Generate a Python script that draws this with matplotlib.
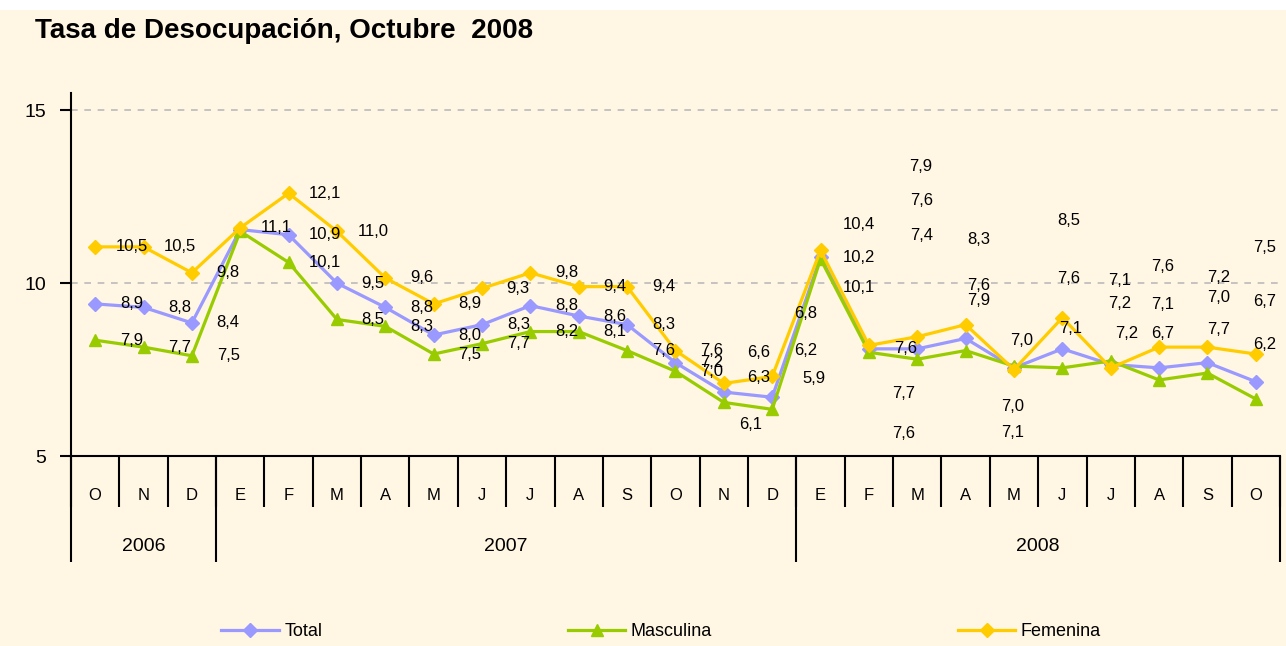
import matplotlib.pyplot as plt
from matplotlib.transforms import blended_transform_factory

plt.rcParams['font.family'] = ['Liberation Sans', 'DejaVu Sans']

# Categories
months = ['O', 'N', 'D', 'E', 'F', 'M', 'A', 'M', 'J', 'J', 'A', 'S',
          'O', 'N', 'D', 'E', 'F', 'M', 'A', 'M', 'J', 'J', 'A', 'S', 'O']
years = ['2006', '2007', '2008']
months_per_year = [3, 12, 10]

# Plotted series (as drawn in the chart)
total = [9.4, 9.3, 8.85, 11.55, 11.4, 10.0, 9.3, 8.5, 8.8, 9.35, 9.05, 8.8,
         7.7, 6.85, 6.7, 10.75, 8.1, 8.1, 8.4, 7.55, 8.1, 7.65, 7.55, 7.7, 7.15]
masculina = [8.35, 8.15, 7.9, 11.5, 10.6, 8.95, 8.75, 7.95, 8.25, 8.6, 8.6, 8.05,
             7.45, 6.55, 6.35, 10.7, 8.0, 7.8, 8.05, 7.6, 7.55, 7.75, 7.2, 7.4, 6.65]
femenina = [11.05, 11.05, 10.3, 11.6, 12.6, 11.5, 10.15, 9.4, 9.85, 10.3, 9.9, 9.9,
            8.05, 7.1, 7.3, 10.95, 8.2, 8.45, 8.8, 7.5, 9.0, 7.55, 8.15, 8.15, 7.95]

# Data label texts (as printed in the chart)
total_lbl = [8.9, 8.8, 8.4, None, 10.9, 9.5, 8.8, 8.0, 8.3, 8.8, 8.6, 8.3,
             7.2, 6.3, 6.2, 10.2, 7.6, 7.6, 7.9, 7.0, 7.6, 7.2, 7.1, 7.2, 6.7]
masculina_lbl = [7.9, 7.7, 7.5, None, 10.1, 8.5, 8.3, 7.5, 7.7, 8.2, 8.1, 7.6,
                 7.0, 6.1, 5.9, 10.1, 7.6, 7.4, 7.6, 7.1, 7.1, 7.2, 6.7, 7.0, 6.2]
femenina_lbl = [10.5, 10.5, 9.8, 11.1, 12.1, 11.0, 9.6, 8.9, 9.3, 9.8, 9.4, 9.4,
                7.6, 6.6, 6.8, 10.4, 7.7, 7.9, 8.3, 7.0, 8.5, 7.1, 7.6, 7.7, 7.5]

# labels that were moved away from their points: index -> (dx, y)
total_moved = {13: (0.72, 7.28), 14: (0.70, 8.06), 15: (0.79, 10.73),
               17: (0.08, 12.4), 18: (0.27, 9.5), 19: (-0.02, 6.42),
               20: (0.14, 10.14), 21: (0.18, 9.42), 22: (0.08, 9.39),
               23: (0.23, 10.17), 24: (0.18, 9.48)}
masculina_moved = {13: (0.56, 5.9), 14: (0.87, 7.23), 15: (0.79, 9.88),
                   16: (0.72, 5.66), 17: (0.08, 11.39), 18: (0.27, 9.94),
                   19: (-0.02, 5.69), 20: (0.18, 8.69), 21: (0.33, 8.55),
                   22: (0.08, 8.55), 23: (0.23, 9.59), 24: (0.18, 8.23)}
femenina_moved = {13: (0.72, 7.99), 14: (0.70, 9.13), 15: (0.79, 11.69),
                  16: (0.72, 6.82), 17: (0.08, 13.37), 18: (0.27, 11.25),
                  19: (0.15, 8.35), 20: (0.14, 11.82), 21: (0.18, 10.09),
                  22: (0.08, 10.49), 23: (0.23, 8.66), 24: (0.18, 11.04)}

bg = '#FFF6E3'
fig = plt.figure(figsize=(12.86, 6.46), dpi=100, facecolor='white')
fig.patches.append(plt.Rectangle((0, 0), 1, 0.985, transform=fig.transFigure,
                                 facecolor=bg, edgecolor='none', zorder=-10))
ax = fig.add_axes([0.0552, 0.2941, 0.9401, 0.5619])
ax.set_facecolor(bg)

x = list(range(len(months)))
series = [
    ('Total', total, total_lbl, total_moved, '#9999FF', 'D', 7),
    ('Masculina', masculina, masculina_lbl, masculina_moved, '#99CC00', '^', 8),
    ('Femenina', femenina, femenina_lbl, femenina_moved, '#FFCC00', 'D', 7),
]
for name, vals, lbls, moved, col, mk, ms in series:
    ax.plot(x, vals, color=col, marker=mk, markersize=ms, linewidth=2.3,
            label=name, clip_on=False)
    for i, v in enumerate(vals):
        if lbls[i] is None:
            continue
        dx, ly = moved.get(i, (0.75, v))
        ax.text(i + dx, ly, f'{lbls[i]:.1f}'.replace('.', ','), fontsize=12,
                ha='center', va='center', color='black', zorder=5)

ax.set_xlim(-0.5, len(months) - 0.5)
ax.set_ylim(5, 15.5)
ax.set_yticks([5, 10, 15])
ax.tick_params(axis='y', length=8, width=1.5, pad=10, labelsize=14)
for yv in [10, 15]:
    ax.axhline(yv, color='#BBBBBB', linewidth=1.2, linestyle=(0, (4, 4)), zorder=0)

for s in ['top', 'right']:
    ax.spines[s].set_visible(False)
for s in ['left', 'bottom']:
    ax.spines[s].set_linewidth(1.5)

# month labels and separators
ax.set_xticks(x)
ax.set_xticklabels(months, fontsize=12)
ax.tick_params(axis='x', which='major', length=0, pad=23)
ax.set_xticks([i - 0.5 for i in range(len(months) + 1)], minor=True)
ax.tick_params(axis='x', which='minor', length=37, width=1.5)

# year separators and labels
bounds = [-0.5]
for n in months_per_year:
    bounds.append(bounds[-1] + n)
sec = ax.secondary_xaxis('bottom')
sec.set_xticks(bounds)
sec.set_xticklabels([''] * len(bounds))
sec.tick_params(length=76, width=1.5)
sec.spines['bottom'].set_visible(False)
trans = blended_transform_factory(ax.transData, ax.transAxes)
for k, yr in enumerate(years):
    ax.text((bounds[k] + bounds[k + 1]) / 2, -0.25, yr, transform=trans,
            ha='center', va='center', fontsize=14)

fig.text(0.027, 0.952, 'Tasa de Desocupación, Octubre  2008', fontsize=20,
         fontweight='bold', ha='left', va='center')

fig.legend(loc='center', bbox_to_anchor=(0.514, 0.022), ncol=3, frameon=False,
           fontsize=13, handlelength=3.2, columnspacing=13.6, handletextpad=0.3)

fig.savefig('out.png', dpi=100, facecolor=fig.get_facecolor())
